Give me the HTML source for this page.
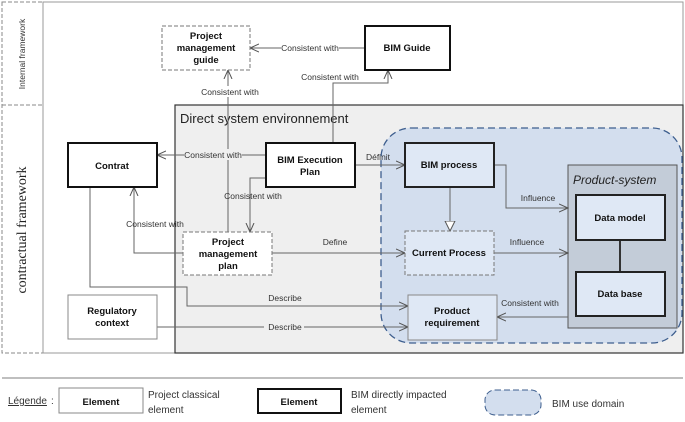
<!DOCTYPE html>
<html><head><meta charset="utf-8"><style>
html,body{margin:0;padding:0;background:#fff;}
svg{display:block;font-family:"Liberation Sans",Arial,sans-serif;}
.b{font-weight:bold;font-size:9.5px;fill:#111;}
.l{font-size:8.5px;fill:#333;}
</style></head><body>
<svg width="685" height="422" viewBox="0 0 685 422" xmlns="http://www.w3.org/2000/svg">
<defs>
<marker id="a" markerWidth="10" markerHeight="10" refX="9" refY="5" orient="auto" markerUnits="userSpaceOnUse">
<path d="M0,1 L9,5 L0,9" fill="none" stroke="#555" stroke-width="1"/></marker>
<marker id="t" markerWidth="12" markerHeight="12" refX="10" refY="6" orient="auto" markerUnits="userSpaceOnUse">
<path d="M0,1 L10,6 L0,11 Z" fill="#fff" stroke="#555" stroke-width="1"/></marker>
</defs>
<!-- frames -->
<rect x="2" y="2" width="41" height="351" fill="#fff" stroke="#888" stroke-dasharray="4,2"/>
<line x1="2" y1="105" x2="175" y2="105" stroke="#888" stroke-dasharray="4,2"/>
<rect x="43" y="2" width="640" height="351" fill="#fff" stroke="#999"/>
<rect x="175" y="105" width="508" height="248" fill="#efefef" stroke="#333" stroke-width="1.2"/>
<text x="180" y="123" font-size="13" fill="#222">Direct system environnement</text>
<text transform="translate(25,54) rotate(-90)" text-anchor="middle" font-size="8.5" fill="#333">Internal framework</text>
<text transform="translate(26,230) rotate(-90)" text-anchor="middle" font-size="14" fill="#222" font-family="Liberation Serif,serif">contractual framework</text>
<!-- BIM use domain -->
<rect x="381" y="128" width="301" height="215" rx="30" fill="#d3deee" stroke="#3d5e8e" stroke-width="1.3" stroke-dasharray="7,4"/>
<!-- Product system -->
<rect x="568" y="165" width="109" height="163" fill="#c3ccd8" stroke="#555" stroke-width="1"/>
<text x="573" y="184" font-size="12" font-style="italic" fill="#222">Product-system</text>
<!-- connectors -->
<g stroke="#666" stroke-width="1" fill="none">
<path d="M365,48 H250" marker-end="url(#a)"/>
<path d="M333,143 V83 H388 V70" marker-end="url(#a)"/>
<path d="M228,232 V70" marker-end="url(#a)"/>
<path d="M266,155 H157" marker-end="url(#a)"/>
<path d="M266,178 H250 V232" marker-end="url(#a)"/>
<path d="M183,253 H134 V187" marker-end="url(#a)"/>
<path d="M272,253 H405" marker-end="url(#a)"/>
<path d="M90,187 V287 H187 V306 H408" marker-end="url(#a)"/>
<path d="M157,327 H408" marker-end="url(#a)"/>
<path d="M355,165 H405" marker-end="url(#a)"/>
<path d="M450,187 V231" marker-end="url(#t)"/>
<path d="M494,165 H506 V208 H568" marker-end="url(#a)"/>
<path d="M494,253 H568" marker-end="url(#a)"/>
<path d="M568,317 H497" marker-end="url(#a)"/>
</g>
<line x1="620" y1="240" x2="620" y2="272" stroke="#333" stroke-width="2"/>
<!-- labels -->
<g class="l" text-anchor="middle">
<rect x="281" y="42" width="58" height="11" fill="#fff"/><text x="310" y="51">Consistent with</text>
<text x="330" y="80">Consistent with</text>
<rect x="201" y="86" width="58" height="11" fill="#fff"/><text x="230" y="95">Consistent with</text>
<rect x="184" y="149" width="58" height="11" fill="#efefef"/><text x="213" y="158">Consistent with</text>
<text x="253" y="199">Consistent with</text>
<text x="155" y="227">Consistent with</text>
<text x="335" y="245">Define</text>
<text x="285" y="301">Describe</text>
<rect x="264" y="322" width="40" height="11" fill="#efefef"/><text x="285" y="330">Describe</text>
<text x="378" y="160">Définit</text>
<text x="538" y="201">Influence</text>
<text x="527" y="245">Influence</text>
<text x="530" y="306">Consistent with</text>
</g>
<!-- nodes -->
<g class="b" text-anchor="middle">
<rect x="162" y="26" width="88" height="44" fill="#fff" stroke="#777" stroke-dasharray="4,2"/>
<text x="206" y="39">Project</text><text x="206" y="51">management</text><text x="206" y="63">guide</text>
<rect x="365" y="26" width="85" height="44" fill="#fff" stroke="#111" stroke-width="2"/>
<text x="407" y="51">BIM Guide</text>
<rect x="68" y="143" width="89" height="44" fill="#fff" stroke="#111" stroke-width="2"/>
<text x="112" y="169">Contrat</text>
<rect x="266" y="143" width="89" height="44" fill="#fff" stroke="#111" stroke-width="2"/>
<text x="310" y="163">BIM Execution</text><text x="310" y="175">Plan</text>
<rect x="405" y="143" width="89" height="44" fill="#dfe8f5" stroke="#222" stroke-width="2"/>
<text x="449" y="168">BIM process</text>
<rect x="405" y="231" width="89" height="44" fill="#dfe8f5" stroke="#777" stroke-dasharray="4,2"/>
<text x="449" y="256">Current Process</text>
<rect x="576" y="195" width="89" height="45" fill="#dfe8f5" stroke="#222" stroke-width="2"/>
<text x="620" y="221">Data model</text>
<rect x="576" y="272" width="89" height="44" fill="#dfe8f5" stroke="#222" stroke-width="2"/>
<text x="620" y="297">Data base</text>
<rect x="408" y="295" width="89" height="45" fill="#dfe8f5" stroke="#888"/>
<text x="452" y="314">Product</text><text x="452" y="326">requirement</text>
<rect x="183" y="232" width="89" height="43" fill="#fff" stroke="#777" stroke-dasharray="4,2"/>
<text x="228" y="245">Project</text><text x="228" y="257">management</text><text x="228" y="269">plan</text>
<rect x="68" y="295" width="89" height="44" fill="#fff" stroke="#888"/>
<text x="112" y="314">Regulatory</text><text x="112" y="326">context</text>
</g>
<!-- legend -->
<line x1="2" y1="378" x2="683" y2="378" stroke="#999" stroke-width="1.2"/>
<text x="8" y="404" font-size="10" fill="#333" text-decoration="underline">Légende</text>
<text x="51" y="404" font-size="10" fill="#333">:</text>
<rect x="59" y="388" width="84" height="25" fill="#fff" stroke="#888"/>
<text x="101" y="405" class="b" text-anchor="middle">Element</text>
<text x="148" y="398" font-size="10" fill="#333">Project classical</text>
<text x="148" y="413" font-size="10" fill="#333">element</text>
<rect x="258" y="389" width="83" height="24" fill="#fff" stroke="#111" stroke-width="2"/>
<text x="299" y="405" class="b" text-anchor="middle">Element</text>
<text x="351" y="398" font-size="10" fill="#333">BIM directly impacted</text>
<text x="351" y="413" font-size="10" fill="#333">element</text>
<rect x="485" y="390" width="56" height="25" rx="10" fill="#d3deee" stroke="#3d5e8e" stroke-dasharray="6,3"/>
<text x="552" y="407" font-size="10" fill="#333">BIM use domain</text>
</svg>
</body></html>
